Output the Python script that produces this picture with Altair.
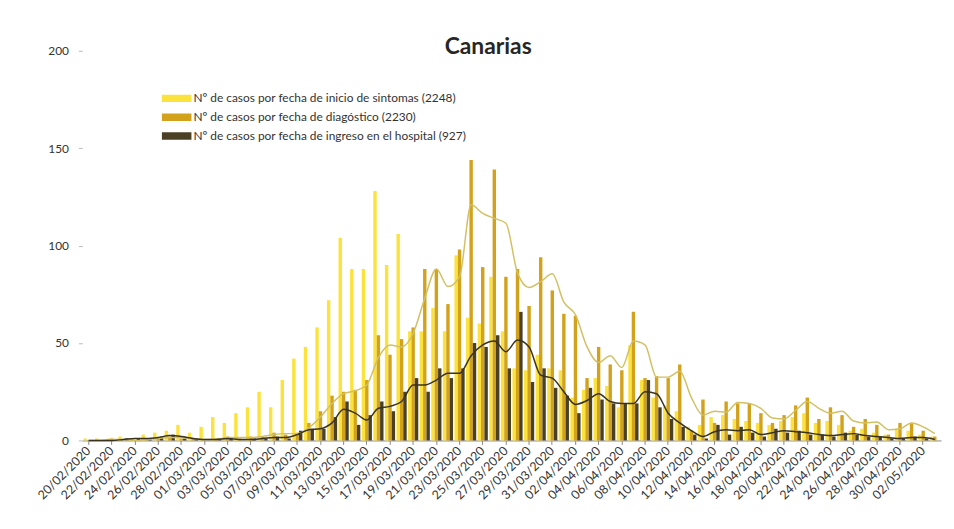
import altair as alt
import pandas as pd

fechas = [
    "20/02/2020", "21/02/2020", "22/02/2020", "23/02/2020", "24/02/2020", "25/02/2020",
    "26/02/2020", "27/02/2020", "28/02/2020", "29/02/2020",
    "01/03/2020", "02/03/2020", "03/03/2020", "04/03/2020", "05/03/2020", "06/03/2020",
    "07/03/2020", "08/03/2020", "09/03/2020", "10/03/2020", "11/03/2020", "12/03/2020",
    "13/03/2020", "14/03/2020", "15/03/2020", "16/03/2020", "17/03/2020", "18/03/2020",
    "19/03/2020", "20/03/2020", "21/03/2020", "22/03/2020", "23/03/2020", "24/03/2020",
    "25/03/2020", "26/03/2020", "27/03/2020", "28/03/2020", "29/03/2020", "30/03/2020",
    "31/03/2020",
    "01/04/2020", "02/04/2020", "03/04/2020", "04/04/2020", "05/04/2020", "06/04/2020",
    "07/04/2020", "08/04/2020", "09/04/2020", "10/04/2020", "11/04/2020", "12/04/2020",
    "13/04/2020", "14/04/2020", "15/04/2020", "16/04/2020", "17/04/2020", "18/04/2020",
    "19/04/2020", "20/04/2020", "21/04/2020", "22/04/2020", "23/04/2020", "24/04/2020",
    "25/04/2020", "26/04/2020", "27/04/2020", "28/04/2020", "29/04/2020", "30/04/2020",
    "01/05/2020", "02/05/2020", "03/05/2020",
]

sintomas = [
    1, 1, 1, 2, 1, 3,
    4, 5, 8, 4, 7, 12, 9, 14, 17,
    25, 17, 31, 42, 48, 58, 72, 104, 88, 88, 128, 90, 106,
    56, 56, 68, 56, 95, 63, 60, 84, 56, 37, 36, 44, 37, 36, 22, 26, 32, 28, 17, 49,
    31, 22, 18, 15, 7, 8, 12, 13, 11, 10, 9, 8, 10, 12, 14, 9, 10, 8, 5, 6, 4, 3, 6, 5, 3, 2,
]

diagnostico = [
    0, 0, 1, 0, 0, 1, 1, 2, 1, 1, 0, 1, 2, 1, 2,
    2, 4, 3, 4, 9, 15, 23, 25, 26, 31, 54, 44, 52,
    58, 88, 88, 70, 98, 144, 89, 139, 84, 88, 69, 94, 77, 65, 64, 32, 48, 39, 36, 66,
    32, 33, 32, 39, 5, 21, 9, 20, 19, 19, 14, 9, 13, 18, 22, 11, 17, 13, 7, 11, 8, 3, 9, 9, 5, 2,
]

hospital = [
    0, 0, 0, 1, 1, 1, 2, 3, 1, 1, 0, 1, 1, 0, 1,
    1, 2, 1, 5, 6, 6, 12, 20, 8, 13, 20, 15, 25,
    32, 25, 37, 32, 37, 50, 48, 54, 37, 66, 30, 37, 27, 23, 14, 27, 21, 19, 19, 19,
    31, 17, 11, 7, 3, 1, 8, 3, 7, 4, 2, 6, 4, 5, 3, 3, 2, 4, 3, 2, 2, 1, 1, 2, 1, 0,
]

series = [
    "Nº de casos por fecha de inicio de sintomas (2248)",
    "Nº de casos por fecha de diagóstico (2230)",
    "Nº de casos por fecha de ingreso en el hospital (927)",
]
bar_colors = ["#FBE23C", "#D3A21C", "#4A4026"]
line_colors = ["#D2C064", "#38321F"]

n = len(fechas)
df = pd.DataFrame({
    "fecha": fechas * 3,
    "idx": list(range(n)) * 3,
    "serie": [series[0]] * n + [series[1]] * n + [series[2]] * n,
    "valor": sintomas + diagnostico + hospital,
})

FONT = "Lato"

x_enc = alt.X(
    "fecha:N",
    sort=fechas,
    scale=alt.Scale(paddingInner=0.12, paddingOuter=0.1),
    axis=alt.Axis(
        values=fechas[::2], labelAngle=-45, labelAlign="right", labelBaseline="middle",
        title=None, labelFont=FONT, labelFontSize=12.5, labelColor="#333333",
        domainColor="#888888", tickColor="#888888", tickSize=4, labelPadding=4,
    ),
)

bars = alt.Chart(df).mark_bar().encode(
    x=x_enc,
    xOffset=alt.XOffset("serie:N", sort=series, scale=alt.Scale(paddingInner=0)),
    y=alt.Y(
        "valor:Q",
        scale=alt.Scale(domain=[0, 200]),
        axis=alt.Axis(
            values=[0, 50, 100, 150, 200], grid=False, title=None, domain=False,
            labelFont=FONT, labelFontSize=12, labelColor="#333333",
            tickColor="#BBBBBB", tickSize=4, labelPadding=10,
        ),
    ),
    color=alt.Color(
        "serie:N", sort=series,
        scale=alt.Scale(domain=series, range=bar_colors),
        legend=alt.Legend(
            title=None, orient="none", legendX=80, legendY=40,
            symbolType="M-1,-0.25H1V0.25H-1Z", symbolSize=900, symbolStrokeWidth=0,
            labelFont=FONT, labelFontSize=12, labelColor="#333333", labelLimit=500,
            rowPadding=3, clipHeight=16, labelOffset=2,
        ),
    ),
)

lines = alt.Chart(df).transform_filter(
    alt.FieldOneOfPredicate(field="serie", oneOf=[series[1], series[2]])
).transform_window(
    media="mean(valor)", frame=[-1, 0], groupby=["serie"], sort=[alt.SortField("idx")]
).mark_line(interpolate="monotone", strokeWidth=1.5).encode(
    x=alt.X("fecha:N", sort=fechas),
    y=alt.Y("media:Q"),
    stroke=alt.Stroke(
        "serie:N",
        scale=alt.Scale(domain=[series[1], series[2]], range=line_colors),
        legend=None,
    ),
    order="idx:Q",
)

chart = alt.layer(bars, lines).properties(
    width=866,
    height=393,
    padding={"left": 27, "top": 26, "right": 5, "bottom": 5},
    title=alt.TitleParams(
        "Canarias", font=FONT, fontSize=23, fontWeight="bold", color="#262626",
        anchor="middle", frame="bounds", offset=-14,
    ),
).configure_view(stroke=None)

chart.save("out.html", embed_options={"renderer": "svg", "actions": False})
